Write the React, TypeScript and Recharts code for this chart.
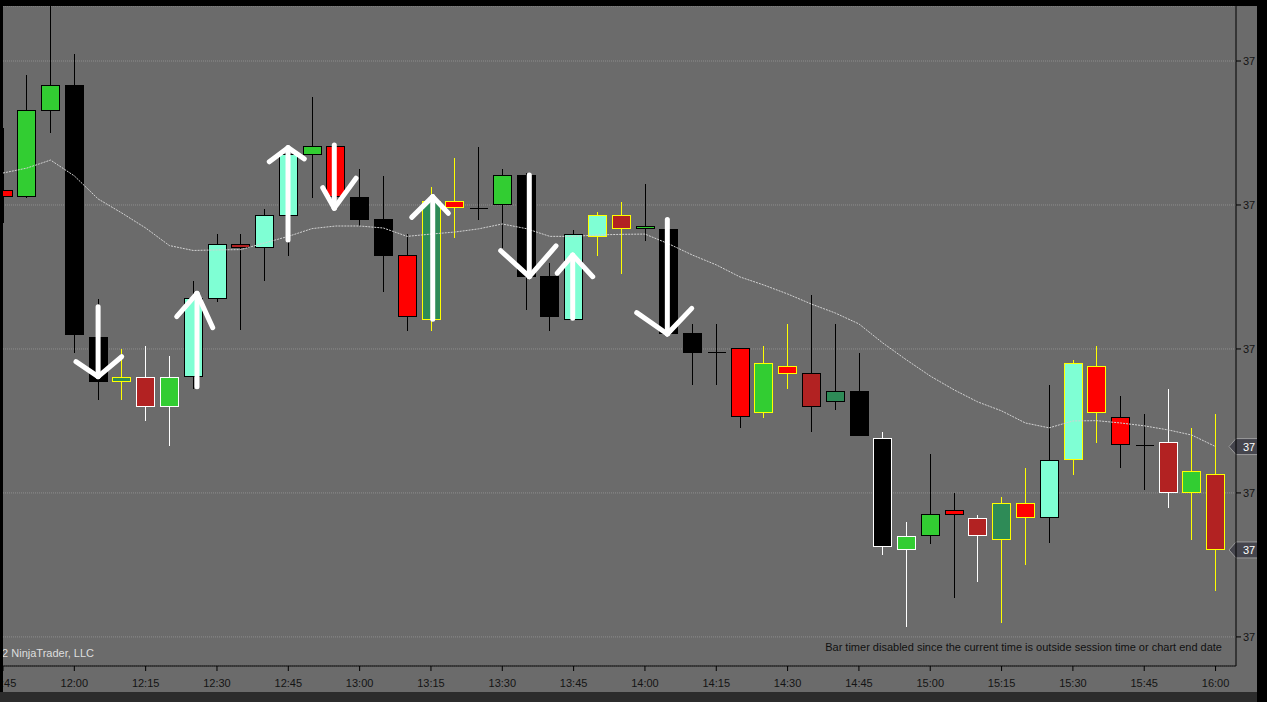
import { ComposedChart, Bar, Line, XAxis, YAxis, CartesianGrid, ReferenceLine } from 'recharts';

// 5-minute bars, 11:45 - 16:00
const times = [
  '11:45', '11:50', '11:55', '12:00', '12:05', '12:10', '12:15', '12:20', '12:25', '12:30',
  '12:35', '12:40', '12:45', '12:50', '12:55', '13:00', '13:05', '13:10', '13:15', '13:20',
  '13:25', '13:30', '13:35', '13:40', '13:45', '13:50', '13:55', '14:00', '14:05', '14:10',
  '14:15', '14:20', '14:25', '14:30', '14:35', '14:40', '14:45', '14:50', '14:55', '15:00',
  '15:05', '15:10', '15:15', '15:20', '15:25', '15:30', '15:35', '15:40', '15:45', '15:50',
  '15:55', '16:00',
];
const opens = [
  3715.5, 3715.28, 3718.28, 3719.15, 3710.4, 3708.87, 3709.01, 3708.0, 3709.03, 3711.75,
  3713.63, 3713.54, 3714.64, 3716.77, 3717.03, 3715.26, 3714.5, 3713.25, 3711.04, 3715.12,
  3714.89, 3715.03, 3716.02, 3712.52, 3711.04, 3713.89, 3714.64, 3714.17, 3714.15, 3710.52,
  3709.89, 3710.02, 3707.78, 3709.39, 3709.15, 3708.16, 3708.52, 3706.89, 3703.02, 3703.51,
  3704.39, 3704.11, 3703.39, 3704.64, 3704.13, 3706.15, 3709.39, 3707.62, 3706.66, 3706.75,
  3705.03, 3705.64,
];
const highs = [
  3717.67, 3719.51, 3722.25, 3720.24, 3711.74, 3710.0, 3710.11, 3709.76, 3712.36, 3713.99,
  3713.99, 3714.86, 3716.91, 3718.75, 3717.03, 3716.25, 3716.0, 3713.98, 3715.63, 3716.63,
  3717.01, 3716.25, 3716.11, 3712.98, 3714.13, 3714.76, 3715.1, 3715.73, 3714.24, 3710.87,
  3710.87, 3710.02, 3710.1, 3710.87, 3711.88, 3710.87, 3709.87, 3707.12, 3703.99, 3706.35,
  3705.01, 3704.24, 3704.86, 3705.87, 3708.75, 3709.62, 3710.1, 3708.37, 3707.74, 3708.61,
  3707.26, 3707.74,
];
const lows = [
  3714.38, 3715.25, 3717.51, 3709.87, 3708.23, 3708.23, 3707.51, 3706.64, 3708.61, 3711.64,
  3710.66, 3712.37, 3713.24, 3715.25, 3715.17, 3714.28, 3711.99, 3710.64, 3710.64, 3713.86,
  3714.48, 3713.51, 3711.35, 3710.64, 3711.03, 3713.24, 3712.61, 3713.76, 3710.42, 3708.76,
  3708.76, 3707.27, 3707.61, 3708.62, 3707.13, 3707.89, 3706.99, 3702.86, 3700.36, 3703.23,
  3701.36, 3701.89, 3700.5, 3702.51, 3703.25, 3705.64, 3706.75, 3705.88, 3705.1, 3704.49,
  3703.38, 3701.61,
];
const closes = [
  3715.28, 3718.28, 3719.15, 3710.49, 3708.87, 3709.01, 3708.0, 3709.01, 3711.75, 3713.63,
  3713.52, 3714.64, 3716.77, 3717.03, 3715.3, 3714.5, 3713.25, 3711.13, 3715.12, 3714.9,
  3714.89, 3716.02, 3712.52, 3711.13, 3713.99, 3714.64, 3714.17, 3714.24, 3710.52, 3709.88,
  3709.89, 3707.64, 3709.5, 3709.15, 3708.0, 3708.52, 3707.0, 3703.14, 3703.49, 3704.25,
  3704.25, 3703.51, 3704.64, 3704.13, 3706.13, 3709.5, 3707.78, 3706.67, 3706.66, 3705.03,
  3705.75, 3703.02,
];
const bodyColors = [
  'red', 'limegreen', 'limegreen', 'black', 'black', 'seagreen', 'firebrick', 'limegreen', 'aquamarine', 'aquamarine',
  'firebrick', 'aquamarine', 'aquamarine', 'limegreen', 'red', 'black', 'black', 'red', 'seagreen', 'red',
  'black', 'limegreen', 'black', 'black', 'aquamarine', 'aquamarine', 'firebrick', 'limegreen', 'black', 'black',
  'black', 'red', 'limegreen', 'red', 'firebrick', 'seagreen', 'black', 'black', 'limegreen', 'limegreen',
  'red', 'firebrick', 'seagreen', 'red', 'aquamarine', 'aquamarine', 'red', 'red', 'black', 'firebrick',
  'limegreen', 'firebrick',
];
const wickColors = [
  'black', 'black', 'black', 'black', 'black', 'yellow', 'white', 'white', 'black', 'black',
  'black', 'black', 'black', 'black', 'black', 'black', 'black', 'black', 'yellow', 'yellow',
  'black', 'black', 'black', 'black', 'black', 'yellow', 'yellow', 'black', 'black', 'black',
  'black', 'black', 'yellow', 'yellow', 'black', 'black', 'black', 'white', 'white', 'black',
  'black', 'white', 'yellow', 'yellow', 'black', 'yellow', 'yellow', 'black', 'black', 'white',
  'yellow', 'yellow',
];
// moving average
const ma = [
  3716.11, 3716.28, 3716.56, 3716.01, 3715.21, 3714.72, 3714.2, 3713.59, 3713.42, 3713.44,
  3713.45, 3713.68, 3713.91, 3714.18, 3714.27, 3714.27, 3714.2, 3713.91, 3713.99, 3714.06,
  3714.17, 3714.34, 3714.18, 3713.91, 3713.91, 3713.96, 3713.98, 3713.99, 3713.65, 3713.26,
  3712.92, 3712.5, 3712.22, 3711.91, 3711.56, 3711.25, 3710.87, 3710.21, 3709.62, 3709.06,
  3708.58, 3708.16, 3707.85, 3707.43, 3707.26, 3707.5, 3707.51, 3707.43, 3707.33, 3707.19,
  3707.01, 3706.61,
];

const priceTicks = [3700, 3705, 3710, 3715, 3720];
const timeTicks = [
  '11:45', '12:00', '12:15', '12:30', '12:45', '13:00', '13:15', '13:30', '13:45',
  '14:00', '14:15', '14:30', '14:45', '15:00', '15:15', '15:30', '15:45', '16:00',
];

// drawn arrows: shaft at minute x from price `from` to `tip`, arms end at [minute, price]
const arrows = [
  { x: 725.0, from: 3711.47, tip: 3709.04, left: [720.35, 3709.56], right: [729.96, 3709.73] },
  { x: 745.8, from: 3708.69, tip: 3711.93, left: [741.53, 3711.12], right: [749.1, 3710.74] },
  { x: 764.94, from: 3713.78, tip: 3716.99, left: [761.0, 3716.5], right: [768.36, 3716.6] },
  { x: 774.67, from: 3717.08, tip: 3714.89, left: [772.24, 3715.6], right: [779.24, 3715.93] },
  { x: 795.37, from: 3711.03, tip: 3715.29, left: [790.95, 3714.57], right: [798.65, 3714.71] },
  { x: 815.68, from: 3716.04, tip: 3712.51, left: [809.67, 3713.41], right: [821.3, 3713.58] },
  { x: 824.81, from: 3711.07, tip: 3713.26, left: [821.57, 3712.63], right: [829.02, 3712.51] },
  { x: 844.71, from: 3714.5, tip: 3710.52, left: [838.27, 3711.26], right: [849.84, 3711.41] },
];

const toMin = (s: string) => {
  const [h, m] = s.split(':').map(Number);
  return h * 60 + m;
};
const fmtTime = (v: number) => {
  const h = Math.floor(v / 60);
  const m = Math.round(v - h * 60);
  return `${h}:${m < 10 ? '0' : ''}${m}`;
};
// the price scale is too narrow for the full value, only the leading digits show
const fmtPrice = (v: number) => String(Math.floor(v)).slice(0, 2);

const data = times.map((s, i) => ({
  t: toMin(s),
  open: opens[i],
  high: highs[i],
  low: lows[i],
  close: closes[i],
  range: [lows[i], highs[i]],
  body: bodyColors[i],
  wick: wickColors[i],
  ma: ma[i],
}));

const FONT = '"Liberation Sans", Arial, sans-serif';

function Candle(props: any) {
  const { x, y, width, height, payload } = props;
  if (!payload) return null;
  const { open, close, high, low, body, wick } = payload;
  const top = Math.min(y, y + height);
  const h = Math.abs(height);
  const py = (p: number) => top + ((high - p) / (high - low)) * h;
  const cx = Math.floor(x + width / 2) + 0.5;
  const yo = py(open);
  const yc = py(close);
  const bt = Math.min(yo, yc);
  const bb = Math.max(yo, yc);
  return (
    <g shapeRendering="crispEdges">
      <line x1={cx} x2={cx} y1={top} y2={top + h} stroke={wick} strokeWidth={1} />
      {bb - bt < 0.5 ? (
        <line x1={cx - 9} x2={cx + 9} y1={bt} y2={bt} stroke={wick} strokeWidth={1} />
      ) : (
        <rect x={cx - 9} y={bt} width={18} height={bb - bt} fill={body} stroke={wick} strokeWidth={1} />
      )}
    </g>
  );
}

function PriceTag(props: any) {
  const { viewBox, value } = props;
  if (!viewBox) return null;
  const xr = viewBox.x + viewBox.width;
  const y = viewBox.y;
  const pts = `${xr - 7},${y} ${xr},${y - 8} ${xr + 40},${y - 8} ${xr + 40},${y + 8} ${xr},${y + 8}`;
  return (
    <g>
      <polygon points={pts} fill="#45454d" stroke="#9a9a9a" strokeWidth={1} />
      <text x={xr + 7} y={y} dy="0.36em" fill="#ffffff" fontSize={11} fontFamily={FONT}>
        {fmtPrice(value)}
      </text>
    </g>
  );
}

export default function App() {
  const last = data[data.length - 1];
  return (
    <div
      style={{
        position: 'absolute',
        left: 0,
        top: 0,
        width: 1267,
        height: 702,
        background: '#000',
        overflow: 'hidden',
        fontFamily: FONT,
      }}
    >
      <div style={{ position: 'absolute', left: 0, top: 692, width: 1257, height: 10, background: '#2c2c2c' }} />
      <div style={{ position: 'absolute', left: 3, top: 6, width: 1254, height: 686, background: '#6b6b6b' }}>
        <ComposedChart width={1254} height={686} data={data} margin={{ top: 0, right: 0, bottom: 0, left: 0 }}>
          <CartesianGrid vertical={false} stroke="#8e8e8e" strokeDasharray="1 1" />
          <XAxis
            dataKey="t"
            type="number"
            domain={[705, 964.3]}
            allowDataOverflow
            ticks={timeTicks.map(toMin)}
            interval={0}
            tickFormatter={fmtTime}
            height={26}
            tickSize={5}
            tickMargin={8}
            axisLine={{ stroke: '#000' }}
            tickLine={{ stroke: '#000' }}
            tick={{ fill: '#141414', fontSize: 11, fontFamily: FONT }}
          />
          <YAxis
            orientation="right"
            type="number"
            domain={[3698.99, 3721.91]}
            allowDataOverflow
            ticks={priceTicks}
            interval={0}
            tickFormatter={fmtPrice}
            width={21}
            tickSize={5}
            tickMargin={2}
            axisLine={{ stroke: '#000' }}
            tickLine={{ stroke: '#000' }}
            tick={{ fill: '#141414', fontSize: 11, fontFamily: FONT, textAnchor: 'start' }}
          />
          <Bar dataKey="range" barSize={18} shape={(p: any) => <Candle {...p} />} isAnimationActive={false} />
          <Line
            dataKey="ma"
            type="linear"
            stroke="#d2d2d2"
            strokeWidth={1}
            strokeDasharray="2 1"
            dot={false}
            activeDot={false}
            isAnimationActive={false}
          />
          {arrows.map((a, i) => (
            <ReferenceLine
              key={`s${i}`}
              segment={[{ x: a.x, y: a.from }, { x: a.x, y: a.tip }]}
              stroke="#ffffff"
              strokeWidth={5}
              strokeLinecap="round"
            />
          ))}
          {arrows.map((a, i) => (
            <ReferenceLine
              key={`l${i}`}
              segment={[{ x: a.left[0], y: a.left[1] }, { x: a.x, y: a.tip }]}
              stroke="#ffffff"
              strokeWidth={5}
              strokeLinecap="round"
            />
          ))}
          {arrows.map((a, i) => (
            <ReferenceLine
              key={`r${i}`}
              segment={[{ x: a.x, y: a.tip }, { x: a.right[0], y: a.right[1] }]}
              stroke="#ffffff"
              strokeWidth={5}
              strokeLinecap="round"
            />
          ))}
          <ReferenceLine y={last.ma} stroke="none" label={<PriceTag value={last.ma} />} />
          <ReferenceLine y={last.close} stroke="none" label={<PriceTag value={last.close} />} />
        </ComposedChart>
      </div>
      <div style={{ position: 'absolute', left: 3, top: 648, width: 91, height: 14, overflow: 'hidden' }}>
        <span
          style={{
            position: 'absolute',
            right: 0,
            top: 0,
            whiteSpace: 'nowrap',
            fontSize: 11,
            lineHeight: '11px',
            color: '#dedede',
          }}
        >
          © 2022 NinjaTrader, LLC
        </span>
      </div>
      <div
        style={{
          position: 'absolute',
          right: 1267 - 1222,
          top: 641.5,
          whiteSpace: 'nowrap',
          fontSize: 11,
          lineHeight: '11px',
          color: '#111',
        }}
      >
        Bar timer disabled since the current time is outside session time or chart end date
      </div>
    </div>
  );
}
